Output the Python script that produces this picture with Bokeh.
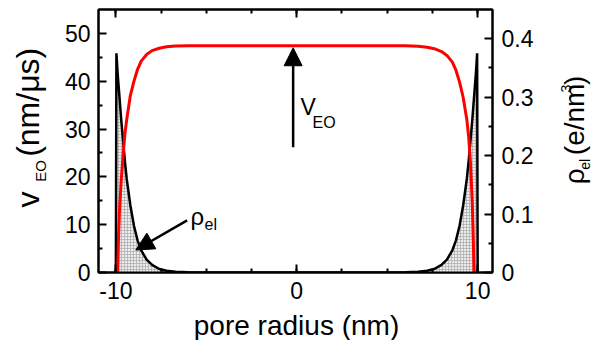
import math
from bokeh.plotting import figure
from bokeh.layouts import row, column
from bokeh.models import (Range1d, LinearAxis, FixedTicker, Label, Arrow,
                          NormalHead, BasicTickFormatter)
from bokeh.embed import file_html
from bokeh.resources import INLINE

# ---------------- data ----------------
rho_x = [-10.0, -9.97, -9.9, -9.8, -9.7, -9.6, -9.5, -9.4, -9.2, -9.0, -8.8,
         -8.6, -8.3, -8.0, -7.6, -7.2, -6.7, -6.0, -5.0, 0.0,
         5.0, 6.0, 6.7, 7.2, 7.6, 8.0, 8.3, 8.6, 8.8, 9.0, 9.2, 9.4, 9.5,
         9.6, 9.7, 9.8, 9.9, 9.97, 10.0]
rho_el = [0.0, 0.375, 0.34, 0.30, 0.26, 0.225, 0.19, 0.16, 0.115, 0.08, 0.055,
          0.038, 0.022, 0.013, 0.006, 0.003, 0.0012, 0.0003, 0.0, 0.0,
          0.0, 0.0003, 0.0012, 0.003, 0.006, 0.013, 0.022, 0.038, 0.055, 0.08,
          0.115, 0.16, 0.19, 0.225, 0.26, 0.30, 0.34, 0.375, 0.0]

v_x = [-9.9, -9.85, -9.8, -9.7, -9.6, -9.5, -9.4, -9.2, -9.0, -8.8, -8.6,
       -8.3, -8.0, -7.6, -7.2, -6.7, -6.0, 0.0, 6.0, 6.7, 7.2, 7.6, 8.0,
       8.3, 8.6, 8.8, 9.0, 9.2, 9.4, 9.5, 9.6, 9.7, 9.75, 9.8]
v_eo = [0.0, 8.0, 13.0, 19.5, 24.5, 29.0, 32.0, 37.0, 40.0, 42.5, 44.2,
        45.6, 46.4, 46.9, 47.2, 47.35, 47.4, 47.4, 47.4, 47.3, 47.1, 46.8,
        46.2, 45.4, 44.0, 42.3, 39.8, 36.6, 32.0, 28.5, 23.0, 15.0, 8.0, 0.0]

x_ticks = [-10, 0, 10]
x_labels = {-10: "-10", 0: "0", 10: "10"}
x_minor = [-10, -7.5, -5, -2.5, 0, 2.5, 5, 7.5, 10]
v_ticks = [0, 10, 20, 30, 40, 50]
v_minor = [5, 15, 25, 35, 45]
rho_ticks = [0.0, 0.1, 0.2, 0.3, 0.4]
rho_minor = [0.05, 0.15, 0.25, 0.35]

# ---------------- layout (pixels of the 593x340 page) ----------------
W, H = 593, 340
LW, RW, BH = 50, 45, 33           # side strips holding the axis titles
MW, MH = W - LW - RW, H - BH      # main figure
FL, FR, FT, FB = 98, 492, 9, 272  # plot frame on the page
X0, X1 = -10.96, 10.82
Y0, Y1 = 0.0, 55.0
R0, R1 = 0.0, 0.45
FONT = "Liberation Sans"
BASE_FIX = 0.3                    # baseline correction, in em


def px_x(px):
    return X0 + (px - FL) / (FR - FL) * (X1 - X0)


def px_y(py):
    return Y0 + (FB - py) / (FB - FT) * (Y1 - Y0)


p = figure(width=MW, height=MH, x_range=Range1d(X0, X1), y_range=Range1d(Y0, Y1),
           output_backend="svg", toolbar_location=None,
           min_border_left=FL - LW, min_border_right=LW + MW - FR,
           min_border_top=FT, min_border_bottom=MH - FB,
           x_axis_location=None, y_axis_location=None)
p.extra_y_ranges = {"rho": Range1d(R0, R1)}
p.xgrid.visible = False
p.ygrid.visible = False
p.outline_line_color = "black"
p.outline_line_width = 2
p.background_fill_color = "white"
p.border_fill_color = "white"


def style(ax, size="23px"):
    ax.axis_line_width = 2
    ax.axis_line_color = "black"
    ax.major_tick_line_width = 2
    ax.minor_tick_line_width = 2
    ax.major_tick_in = 8
    ax.major_tick_out = 0
    ax.minor_tick_in = 4
    ax.minor_tick_out = 0
    ax.major_label_text_font = FONT
    ax.major_label_text_font_size = size
    ax.major_label_text_color = "black"


xb = LinearAxis(ticker=FixedTicker(ticks=x_ticks, minor_ticks=x_minor),
                major_label_overrides=x_labels)
style(xb)
xb.major_label_standoff = 9
p.add_layout(xb, "below")

xt = LinearAxis(ticker=FixedTicker(ticks=x_ticks, minor_ticks=x_minor),
                major_label_overrides={t: "" for t in x_ticks})
style(xt)
xt.major_label_standoff = 0
p.add_layout(xt, "above")

yl = LinearAxis(ticker=FixedTicker(ticks=v_ticks, minor_ticks=v_minor),
                formatter=BasicTickFormatter(precision=0))
style(yl)
yl.major_label_standoff = 8
p.add_layout(yl, "left")

yr = LinearAxis(y_range_name="rho",
                ticker=FixedTicker(ticks=rho_ticks, minor_ticks=rho_minor),
                formatter=BasicTickFormatter(precision=1))
style(yr)
yr.major_label_standoff = 9
p.add_layout(yr, "right")

# ---------------- glyphs ----------------
p.varea(x=rho_x, y1=[0.0] * len(rho_x), y2=rho_el, y_range_name="rho",
        fill_color="#ececec", hatch_pattern="+", hatch_color="#a0a0a0",
        hatch_scale=3, hatch_weight=0.6)
p.line(rho_x, rho_el, y_range_name="rho", line_color="black", line_width=2.5)
p.line(v_x, v_eo, line_color="#ff0000", line_width=3)

# arrows
p.add_layout(Arrow(end=NormalHead(size=18, fill_color="black", line_color="black"),
                   x_start=-0.2, y_start=26.2, x_end=-0.2, y_end=47.0,
                   line_width=2.5, line_color="black"))
p.add_layout(Arrow(end=NormalHead(size=18, fill_color="black", line_color="black"),
                   x_start=-6.06, y_start=10.9, x_end=-8.9, y_end=4.7,
                   line_width=2.5, line_color="black"))


def lab(fig, text, x, y, size, angle=0.0, align="left"):
    fig.add_layout(Label(x=x, y=y, text=text, angle=angle,
                         text_font=FONT, text_font_size=f"{size}px",
                         text_color="black",
                         text_align=align, text_baseline="alphabetic"))


# in-plot annotations: page pixel of baseline start -> data
def lab_main(text, px, py, size):
    lab(p, text, px_x(px), px_y(py - BASE_FIX * size), size)


lab_main("V", 300, 113, 23)
lab_main("EO", 312, 127, 16)
lab_main("ρ", 190, 223, 24)
lab_main("el", 204, 229, 16)


def strip(w, h):
    f = figure(width=w, height=h, x_range=Range1d(0, w), y_range=Range1d(0, h),
               output_backend="svg", toolbar_location=None, min_border=0,
               x_axis_location=None, y_axis_location=None)
    f.xgrid.visible = False
    f.ygrid.visible = False
    f.outline_line_color = None
    f.background_fill_color = "white"
    f.border_fill_color = "white"
    return f


A = math.pi / 2


def lab_vert(fig, ox, text, px, py, size):
    # px: page x of the baseline, py: page y where the (upward) text starts
    lab(fig, text, px - ox - BASE_FIX * size, MH - py, size, A)


left = strip(LW, MH)      # page x 0..50
lab_vert(left, 0, "v", 37, 231, 32)
lab_vert(left, 0, "EO", 44, 201, 15)
lab_vert(left, 0, "(nm/μs)", 37, 172, 32)

right = strip(RW, MH)     # page x 548..593
ox = LW + MW
lab_vert(right, ox, "ρ", 582, 204, 28)
lab_vert(right, ox, "el", 589, 187, 14)
lab_vert(right, ox, "(e/nm", 582, 170, 28)
lab_vert(right, ox, "3", 570, 97, 14)
lab_vert(right, ox, ")", 582, 88, 28)

bottom = strip(W, BH)     # page y 307..340
lab(bottom, "pore radius (nm)", 296, H - 333 + BASE_FIX * 28, 28, align="center")

layout = column(row(left, p, right, spacing=0), bottom, spacing=0)
open("out.html", "w").write(file_html(layout, INLINE))
